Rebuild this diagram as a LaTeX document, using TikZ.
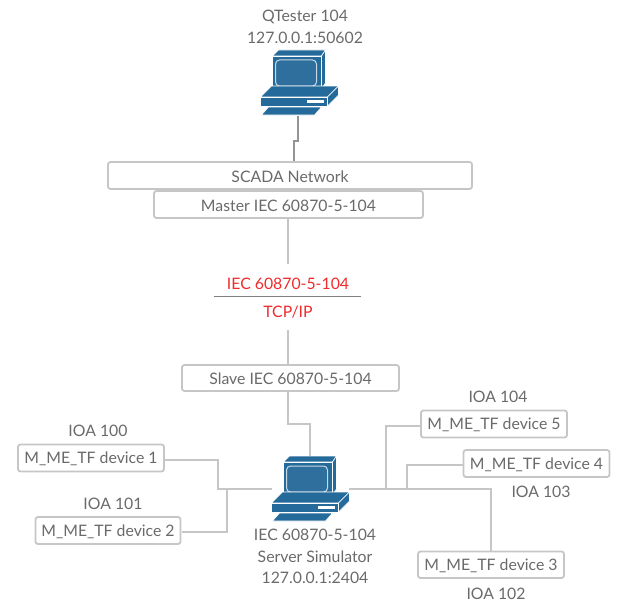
\documentclass[tikz,border=0pt]{standalone}
\usepackage{fontspec}
\setmainfont{Lato}
\definecolor{txt}{HTML}{6A6A6A}
\definecolor{conn}{HTML}{C6C6C6}
\definecolor{pcblue}{HTML}{246A9A}
\definecolor{pcscreen}{HTML}{2F6F9E}
\definecolor{redtxt}{HTML}{F02B2B}
\tikzset{
  box/.style={draw=conn,line width=1.8pt,rounded corners=2.5pt,fill=white,anchor=north west,inner sep=0pt,outer sep=0pt},
  lbl/.style={text=txt,font=\fontsize{15.8}{18}\selectfont,inner sep=0pt,yshift=-1pt},
  redlbl/.style={text=redtxt,font=\fontsize{15.8}{18}\selectfont,inner sep=0pt,yshift=-1pt},
  link/.style={draw=conn,line width=2pt},
  darklink/.style={draw=black!42,line width=2pt},
  pcbox/.style={minimum width=77pt,minimum height=66pt,inner sep=0pt,outer sep=0pt},
  pcpart/.style={fill=pcblue,draw=white,line width=0.6pt,line join=round},
  computer/.pic={
    \path[pcpart] (12,6)--(18,0)--(65,0)--(61,6)--cycle;
    \path[pcpart] (61,6)--(65,0)--(65,33)--(61,39)--cycle;
    \path[pcpart] (12,6) rectangle (61,39);
    \path[fill=pcscreen,draw=white!75!pcblue,line width=1pt,rounded corners=4pt] (15,10) rectangle (56,36);
    \path[pcpart] (0,47)--(11,36)--(78,36)--(67,47)--cycle;
    \path[pcpart] (67,47)--(78,36)--(78,45)--(67,56)--cycle;
    \path[pcpart] (0,47) rectangle (67,56);
    \path[fill=white] (46,50) rectangle (63,53);
    \path[pcpart] (1,65)--(8,57)--(61,57)--(54,65)--cycle;
  }
}
\begin{document}
\begin{tikzpicture}[x=1pt,y=-1pt]
\useasboundingbox (0,0) rectangle (626,610);
% labels
\node[lbl] (qa) at (305,16) {QTester 104};
\node[lbl] (qb) at (305,37) {127.0.0.1:50602};
% computers
\node[pcbox] (pcA) at (299,83) {};
\pic at (260.5,50) {computer};
\node[pcbox] (pcB) at (310,489) {};
\pic at (271.5,456) {computer};
% boxes
\node[box,minimum width=364pt,minimum height=27pt] (scada) at (108,162) {};
\node[lbl] at (scada.center) {SCADA Network};
\node[box,minimum width=269pt,minimum height=27pt] (master) at (154,191) {};
\node[lbl] at (master.center) {Master IEC 60870-5-104};
\node[box,minimum width=217pt,minimum height=26pt] (slave) at (182,365) {};
\node[lbl] at (slave.center) {Slave IEC 60870-5-104};
\node[box,minimum width=146pt,minimum height=27pt] (d1) at (18,444.5) {};
\node[lbl] at (d1.center) {M\_ME\_TF device 1};
\node[box,minimum width=145pt,minimum height=27pt] (d2) at (35.5,517) {};
\node[lbl] at (d2.center) {M\_ME\_TF device 2};
\node[box,minimum width=146pt,minimum height=26.5pt] (d3) at (418,551.5) {};
\node[lbl] at (d3.center) {M\_ME\_TF device 3};
\node[box,minimum width=146pt,minimum height=27pt] (d4) at (463.5,450) {};
\node[lbl] at (d4.center) {M\_ME\_TF device 4};
\node[box,minimum width=146pt,minimum height=27pt] (d5) at (421,410.5) {};
\node[lbl] at (d5.center) {M\_ME\_TF device 5};
% protocol stack
\node[redlbl] (proto) at (288,283) {IEC 60870-5-104};
\node[redlbl] (tcp) at (288,311) {TCP/IP};
\coordinate (ruleL) at (214,296.5);
\coordinate (ruleR) at (361,296.5);
\draw[draw=black!50,line width=1.6pt] (ruleL) -- (ruleR);
% other labels
\node[lbl] (i104) at (498,396) {IOA 104};
\node[lbl] (i100) at (98,430) {IOA 100};
\node[lbl] (i101) at (113,503) {IOA 101};
\node[lbl] (i103) at (541,491) {IOA 103};
\node[lbl] (i102) at (496,593) {IOA 102};
\node[lbl] (s1) at (315,534) {IEC 60870-5-104};
\node[lbl] (s2) at (315,556) {Server Simulator};
\node[lbl] (s3) at (315,577) {127.0.0.1:2404};
% connector end points
\coordinate (aTop) at (298,116);
\coordinate (aBend) at (298,140.5);
\coordinate (aLow) at (293.5,140.5);
\coordinate (aEnd) at (293.5,161);
\coordinate (mTop) at (288,219);
\coordinate (mEnd) at (288,264);
\coordinate (sTop) at (288,330);
\coordinate (sEnd) at (288,364);
\coordinate (sDown) at (288,392);
\coordinate (sBend) at (310,423.5);
\coordinate (pcTop) at (310,456);
\coordinate (d1tap) at (165,460);
\coordinate (d2tap) at (181.5,532);
\coordinate (d5tap) at (421,426);
\coordinate (d4tap) at (463.5,465);
\coordinate (leftJ) at (218,488.5);
\coordinate (leftK) at (227,488.5);
\coordinate (pcL) at (272,488.5);
\coordinate (pcR) at (349,488.5);
\coordinate (rA) at (385.5,488.5);
\coordinate (rB) at (407,488.5);
\coordinate (rC) at (490.5,488.5);
% connectors
\draw[darklink] (aTop) -- (aBend) -- (aLow) -- (aEnd);
\draw[link] (mTop) -- (mEnd);
\draw[link] (sTop) -- (sEnd);
\draw[link] (sDown) |- (sBend) -- (pcTop);
\draw[link] (d1tap) -| (leftJ) -- (pcL);
\draw[link] (d2tap) -| (leftK);
\draw[link] (pcR) -- (rC) -- (rC |- d3.north);
\draw[link] (rA) |- (d5tap);
\draw[link] (rB) |- (d4tap);
\end{tikzpicture}
\end{document}
